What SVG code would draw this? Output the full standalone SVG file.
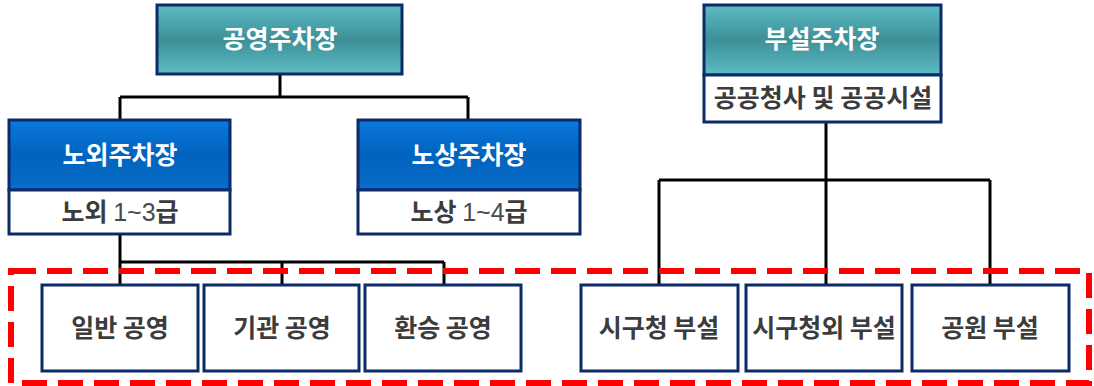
<svg xmlns="http://www.w3.org/2000/svg" width="1094" height="386" viewBox="0 0 1094 386">
<defs>
<linearGradient id="teal" x1="0" y1="0" x2="0" y2="1">
<stop offset="0" stop-color="#5cbcc4"/>
<stop offset="0.5" stop-color="#3e8f97"/>
<stop offset="1" stop-color="#5cbcc4"/>
</linearGradient>
<linearGradient id="blue" x1="0" y1="0" x2="0" y2="1">
<stop offset="0" stop-color="#0b78dc"/>
<stop offset="0.5" stop-color="#0063bd"/>
<stop offset="1" stop-color="#0a6cc8"/>
</linearGradient>
</defs>
<style>
.hdr{stroke:#0c2b68;stroke-width:3}
.sub{fill:#fff;stroke:#0c2b68;stroke-width:3}
.leaf{fill:#fff;stroke:#0c2b68;stroke-width:3}
.ht{font-family:"Noto Sans CJK KR","Liberation Sans",sans-serif;font-weight:bold;font-size:25px;fill:#fff;text-anchor:middle}
.st{font-family:"Noto Sans CJK KR","Liberation Sans",sans-serif;font-weight:bold;font-size:25px;fill:#3c3c3c;text-anchor:middle}
.lt{font-family:"Noto Sans CJK KR","Liberation Sans",sans-serif;font-weight:bold;font-size:25px;fill:#3c3c3c;text-anchor:middle}
.num{font-family:"Liberation Sans",sans-serif;font-weight:normal;fill:#4a4a4a}
.conn{stroke:#000;stroke-width:3;fill:none}
</style>
<g id="connectors">
<path class="conn" d="M280 74V97M120 97H468M120 97V120M468 97V120"/>
<path class="conn" d="M120 234V262M120 262H444M120 262V285M282 262V285M444 262V285"/>
<path class="conn" d="M826 122V180M659 180H990M659 180V285M826 180V285M990 180V285"/>
</g>
<g id="n-public">
<rect class="hdr" x="157" y="5" width="245" height="69" fill="url(#teal)"/>
<text class="ht" x="280" y="48">공영주차장</text>
</g>
<g id="n-offstreet">
<rect class="hdr" x="9" y="120" width="221" height="70" fill="url(#blue)"/>
<rect class="sub" x="9" y="190" width="221" height="44"/>
<text class="ht" x="120" y="164">노외주차장</text>
<text class="st" x="120" y="221">노외 <tspan class="num">1~3</tspan>급</text>
</g>
<g id="n-onstreet">
<rect class="hdr" x="358" y="120" width="222" height="70" fill="url(#blue)"/>
<rect class="sub" x="358" y="190" width="222" height="44"/>
<text class="ht" x="469" y="164">노상주차장</text>
<text class="st" x="469" y="221">노상 <tspan class="num">1~4</tspan>급</text>
</g>
<g id="n-attached">
<rect class="hdr" x="704" y="5" width="237" height="70" fill="url(#teal)"/>
<rect class="sub" x="704" y="75" width="237" height="47"/>
<text class="ht" x="822" y="48">부설주차장</text>
<text class="st" x="823" y="107">공공청사 및 공공시설</text>
</g>
<g id="n-general">
<rect class="leaf" x="42" y="285" width="156" height="86"/>
<text class="lt" x="120" y="337">일반 공영</text>
</g>
<g id="n-agency">
<rect class="leaf" x="204" y="285" width="155" height="86"/>
<text class="lt" x="282" y="337">기관 공영</text>
</g>
<g id="n-transfer">
<rect class="leaf" x="365" y="285" width="156" height="86"/>
<text class="lt" x="443" y="337">환승 공영</text>
</g>
<g id="n-city">
<rect class="leaf" x="581" y="285" width="157" height="86"/>
<text class="lt" x="659" y="337">시구청 부설</text>
</g>
<g id="n-cityother">
<rect class="leaf" x="746" y="285" width="156" height="86"/>
<text class="lt" x="824" y="337">시구청외 부설</text>
</g>
<g id="n-park">
<rect class="leaf" x="912" y="285" width="157" height="86"/>
<text class="lt" x="990" y="337">공원 부설</text>
</g>
<rect id="highlight" x="11" y="271" width="1078" height="112" fill="none" stroke="#ff0000" stroke-width="6" stroke-dasharray="25 11"/>
</svg>
